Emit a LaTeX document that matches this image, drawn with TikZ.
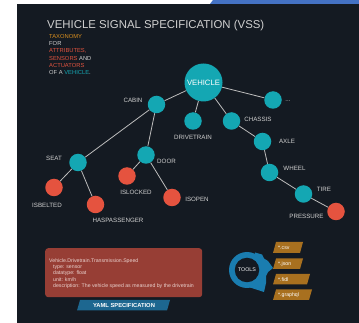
\documentclass[tikz,border=0pt]{standalone}
\usepackage{fontspec}
\setmainfont{Liberation Sans}
\definecolor{bg}{HTML}{141A22}
\definecolor{topblue}{HTML}{4472C4}
\definecolor{vteal}{HTML}{14A7B3}
\definecolor{vred}{HTML}{E5533F}
\definecolor{txtred}{HTML}{E0533F}
\definecolor{txtorange}{HTML}{D98F1F}
\definecolor{edgegray}{HTML}{BDBDBD}
\definecolor{labelgray}{HTML}{D0D0D0}
\definecolor{boxred}{HTML}{973E35}
\definecolor{boxtext}{HTML}{EAD2CE}
\definecolor{yamlblue}{HTML}{1D6790}
\definecolor{toolblue}{HTML}{1A7DB0}
\definecolor{tagbrown}{HTML}{A8701F}
\begin{document}
\begin{tikzpicture}[x=1pt,y=-1pt,
  tnode/.style={circle, fill=vteal, minimum size=17.5pt, inner sep=0pt},
  rnode/.style={circle, fill=vred, minimum size=17.5pt, inner sep=0pt},
  lbl/.style={text=labelgray, font=\fontsize{6.2}{7}\selectfont, inner sep=0pt},
  edge/.style={draw=edgegray, line width=0.8pt},
  yline/.style={text=boxtext, font=\fontsize{5.2}{6}\selectfont, inner sep=0pt, anchor=base west},
  tagtext/.style={text=white, font=\fontsize{5.2}{6}\selectfont, inner sep=0pt, anchor=west}
]
\useasboundingbox (0,0) rectangle (359,323);
% background
\fill[bg] (17,4) rectangle (359,323);
\fill[topblue] (213,0) -- (359,0) -- (359,4) -- (210,4) -- cycle;

% title
\node[anchor=base west, inner sep=0pt, text=labelgray, font=\fontsize{11.4}{13}\selectfont] (title) at (47,28.3) {VEHICLE SIGNAL SPECIFICATION (VSS)};

% taxonomy
\node[anchor=north west, inner sep=0pt, align=left, text=labelgray, font=\fontsize{5.8}{7.35}\selectfont] (tax) at (49,33.9)
 {\textcolor{txtorange}{TAXONOMY}\\
  FOR\\
  \textcolor{txtred}{ATTRIBUTES,}\\
  \textcolor{txtred}{SENSORS} AND\\
  \textcolor{txtred}{ACTUATORS}\\
  OF A \textcolor{vteal}{VEHICLE}.};

% tree nodes
\node[tnode, minimum size=38pt, text=white, font=\fontsize{7.7}{9}\selectfont] (vehicle) at (203.5,82.5) {VEHICLE};
\node[tnode] (cabin) at (156.5,104.5) {};
\node[tnode] (more) at (273,100) {};
\node[tnode] (drivetrain) at (193,121) {};
\node[tnode] (chassis) at (231.5,121) {};
\node[tnode] (axle) at (262.5,141.5) {};
\node[tnode] (wheel) at (269.5,172.5) {};
\node[tnode] (tire) at (303.5,194) {};
\node[rnode] (pressure) at (336,211.5) {};
\node[tnode] (seat) at (78,162.5) {};
\node[tnode] (door) at (146,155) {};
\node[rnode] (isbelted) at (54,187.5) {};
\node[rnode] (haspass) at (95.5,204.5) {};
\node[rnode] (islocked) at (127,176) {};
\node[rnode] (isopen) at (172,197.5) {};

% edges
\draw[edge] (vehicle) -- (cabin);
\draw[edge] (vehicle) -- (more);
\draw[edge] (vehicle) -- (drivetrain);
\draw[edge] (vehicle) -- (chassis);
\draw[edge] (cabin) -- (seat);
\draw[edge] (cabin) -- (door);
\draw[edge] (seat) -- (isbelted);
\draw[edge] (seat) -- (haspass);
\draw[edge] (door) -- (islocked);
\draw[edge] (door) -- (isopen);
\draw[edge] (chassis) -- (axle);
\draw[edge] (axle) -- (wheel);
\draw[edge] (wheel) -- (tire);
\draw[edge] (tire) -- (pressure);

% labels
\node[lbl] (lcabin) at (133,100) {CABIN};
\node[lbl] (lmore) at (288,101.5) {...};
\node[lbl] (ldrive) at (193,137) {DRIVETRAIN};
\node[lbl] (lchassis) at (258,119) {CHASSIS};
\node[lbl] (laxle) at (287,141) {AXLE};
\node[lbl] (lwheel) at (294.5,168.5) {WHEEL};
\node[lbl] (ltire) at (324,189) {TIRE};
\node[lbl] (lpressure) at (306.5,216.5) {PRESSURE};
\node[lbl] (lseat) at (54,158) {SEAT};
\node[lbl] (ldoor) at (166.5,161) {DOOR};
\node[lbl] (lisbelted) at (47,205) {ISBELTED};
\node[lbl] (lhaspass) at (118,220.7) {HASPASSENGER};
\node[lbl] (lislocked) at (136,192.3) {ISLOCKED};
\node[lbl] (lisopen) at (197,199.3) {ISOPEN};

% yaml box
\node[fill=boxred, rounded corners=3pt, minimum width=157pt, minimum height=49pt, inner sep=0pt, anchor=north west] (ybox) at (45,248) {};
\node[yline] (y1) at (49,262.5) {Vehicle.Drivetrain.Transmission.Speed};
\node[yline] (y2) at (53,268.6) {type: sensor};
\node[yline] (y3) at (53,274.8) {datatype: float};
\node[yline] (y4) at (53,281.2) {unit: km/h};
\node[yline] (y5) at (53,287.6) {description: The vehicle speed as measured by the drivetrain};

\fill[yamlblue] (80,300) -- (170,300) -- (167,310.5) -- (77,310.5) -- cycle;
\node[text=white, font=\bfseries\fontsize{5.8}{7}\selectfont, inner sep=0pt] (yaml) at (124,305.5) {YAML SPECIFICATION};

% tools gear
\fill[toolblue] (247,270) circle (18pt);
\fill[toolblue] (255,252.5) -- (262,254.5) -- (264,258.5) -- (268,261) -- (273,268) -- (268,272) -- (266,276) -- (266,283) -- (264,292) -- (250,287.5) -- cycle;
\node[circle, fill=bg, minimum size=24.5pt, inner sep=0pt, text=white, font=\fontsize{5.3}{6}\selectfont] (tools) at (247,270) {TOOLS};

% tags
\fill[tagbrown] (276,242) -- (303,242) -- (300,253) -- (273,253) -- cycle;
\node[tagtext] (csv) at (278,247.5) {*.csv};
\fill[tagbrown] (276,258.5) -- (303,258.5) -- (300,269) -- (273,269) -- cycle;
\node[tagtext] (json) at (278,263.8) {*.json};
\fill[tagbrown] (276,274) -- (310,274) -- (307,284.5) -- (273,284.5) -- cycle;
\node[tagtext] (fidl) at (278,279.3) {*.fidl};
\fill[tagbrown] (276,289.5) -- (312,289.5) -- (309,300) -- (273,300) -- cycle;
\node[tagtext] (graphql) at (278,294.8) {*.graphql};
\end{tikzpicture}
\end{document}
